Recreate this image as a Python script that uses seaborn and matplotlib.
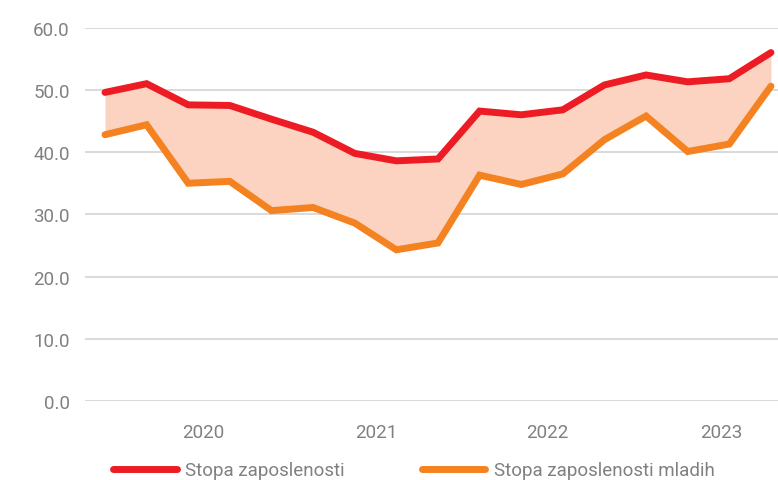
import numpy as np
import pandas as pd
import matplotlib
matplotlib.use("Agg")
import matplotlib.pyplot as plt
import seaborn as sns

# quarterly values
quarter = np.arange(17)
stopa = [49.6, 51.0, 47.6, 47.5, 45.3, 43.2, 39.8, 38.6, 38.9, 46.6, 46.0, 46.8,
         50.8, 52.4, 51.3, 51.8, 56.0]
stopa_mladih = [42.8, 44.4, 35.0, 35.3, 30.6, 31.1, 28.6, 24.3, 25.4, 36.3, 34.8, 36.5,
                42.0, 45.8, 40.1, 41.3, 50.6]
year_labels = ["2020", "2021", "2022", "2023"]
year_pos = [2.35, 6.51, 10.63, 14.8]
y_ticks = [0, 10, 20, 30, 40, 50, 60]

df = pd.DataFrame({"q": quarter, "Stopa zaposlenosti": stopa,
                   "Stopa zaposlenosti mladih": stopa_mladih})

sns.set_style("white")
plt.rcParams["font.family"] = ["Roboto", "DejaVu Sans"]

red = "#ED1C24"
orange = "#F58220"
fill = "#FBD3C0"
grey = "#808080"

fig = plt.figure(figsize=(7.78, 4.81), dpi=100)
ax = fig.add_axes([85 / 778, 1 - 402 / 481, 693 / 778, (402 - 28.7) / 481])

ax.fill_between(df["q"], df["Stopa zaposlenosti mladih"], df["Stopa zaposlenosti"],
                color=fill, linewidth=0, zorder=1)
sns.lineplot(data=df, x="q", y="Stopa zaposlenosti", color=red, linewidth=5,
             solid_capstyle="round", solid_joinstyle="miter", ax=ax,
             label="Stopa zaposlenosti", zorder=3, clip_on=False)
sns.lineplot(data=df, x="q", y="Stopa zaposlenosti mladih", color=orange, linewidth=5,
             solid_capstyle="round", solid_joinstyle="miter", ax=ax,
             label="Stopa zaposlenosti mladih", zorder=3, clip_on=False)

ax.set_xlim(-0.48, 16.17)
ax.set_ylim(0, 60)
ax.set_yticks(y_ticks)
ax.set_yticklabels([f"{v:.1f}" for v in y_ticks])
ax.set_xticks(year_pos)
ax.set_xticklabels(year_labels)
ax.set_xlabel("")
ax.set_ylabel("")
ax.tick_params(axis="both", length=0, labelsize=13.5, colors=grey)
ax.tick_params(axis="y", pad=11)
ax.tick_params(axis="x", pad=16)
ax.yaxis.grid(True, color="#D3D3D3", linewidth=1.2, zorder=0)
ax.set_axisbelow(True)
for s in ax.spines.values():
    s.set_visible(False)

handles, labels = ax.get_legend_handles_labels()
ax.get_legend().remove()
leg = fig.legend(handles, labels, loc="center left", ncol=2,
                 bbox_to_anchor=(113 / 778, 1 - 471.5 / 481), frameon=False,
                 fontsize=13.5, handlelength=3.4, handletextpad=0.45,
                 columnspacing=4.1, borderpad=0, borderaxespad=0)
for t in leg.get_texts():
    t.set_color(grey)

fig.savefig("out.png", dpi=100)
